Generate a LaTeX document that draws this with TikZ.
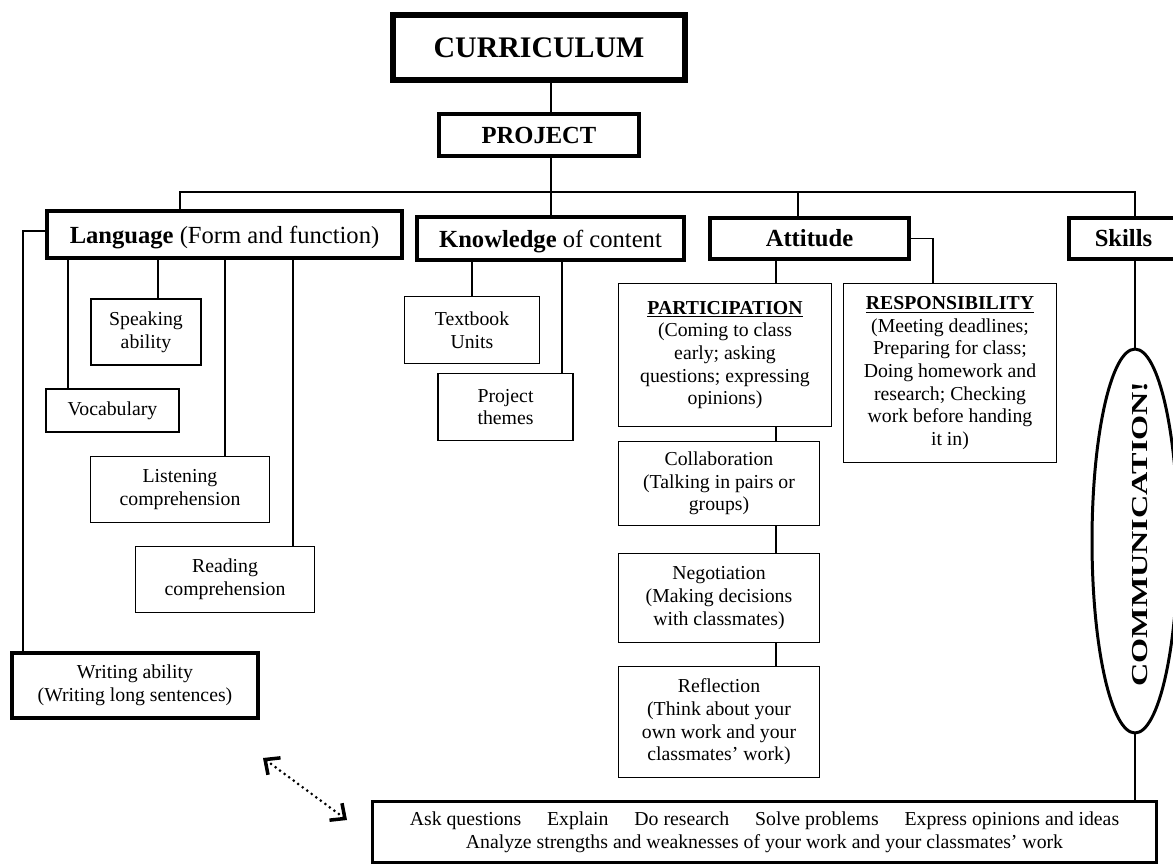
\documentclass[tikz,border=0pt]{standalone}
\usepackage{fontspec}
\setmainfont{Liberation Serif}
\usetikzlibrary{arrows.meta,shapes.geometric,calc}
\begin{document}
\begin{tikzpicture}[x=0.02cm,y=-0.02cm,
  box/.style={draw, line width=1pt, align=center, inner sep=0pt,
    font=\fontsize{11.25}{12.9}\selectfont},
  head/.style={draw, line width=2.1pt, align=center, inner sep=0pt,
    font=\fontsize{14}{16}\selectfont},
  conn/.style={line width=1pt},
  dotarrow/.style={line width=1.7pt, dash pattern=on 0pt off 3.2pt, line cap=round,
    {Straight Barb[length=6.5pt,width=12pt,line width=2pt]}-{Straight Barb[length=6.5pt,width=12pt,line width=2pt]}}
]
\clip (0,0) rectangle (1173,867);
\fill[white] (0,0) rectangle (1173,867);

% top
\node[head, line width=3.6pt, font=\fontsize{17}{20}\selectfont\bfseries,
  minimum width=5.84cm, minimum height=1.3cm] (cur) at (539,47.5) {CURRICULUM};
\node[head, line width=2.2pt, font=\fontsize{14}{16}\selectfont\bfseries,
  minimum width=4cm, minimum height=0.84cm] (proj) at (539,135) {PROJECT};

% main categories
\node[head, minimum width=7.1cm, minimum height=0.94cm, text depth=0pt] (lang) at (224.5,234.5)
  {\textbf{Language} (Form and function)};
\node[head, minimum width=5.34cm, minimum height=0.86cm, text depth=0pt] (know) at (550.5,238.5)
  {\textbf{Knowledge} of content};
\node[head, minimum width=3.98cm, minimum height=0.82cm] (att) at (809.5,238.5)
  {\textbf{Attitude}};
\node[head, minimum width=2.18cm, minimum height=0.82cm] (sk) at (1123.5,238.5)
  {\textbf{Skills}};

% language children
\node[box, minimum width=2.2cm, minimum height=1.32cm] (spk) at (146,332) {Speaking\\ability};
\node[box, minimum width=2.66cm, minimum height=0.86cm] (voc) at (112.5,410.5) {Vocabulary};
\node[box, minimum width=3.58cm, minimum height=1.32cm] (lis) at (180,489.5) {Listening\\comprehension};
\node[box, minimum width=3.58cm, minimum height=1.32cm] (rea) at (225,579.5) {Reading\\comprehension};
\node[box, line width=1.9pt, minimum width=4.92cm, minimum height=1.3cm] (wri) at (135,685.5)
  {Writing ability\\(Writing long sentences)};

% knowledge children
\node[box, minimum width=2.7cm, minimum height=1.34cm] (txt) at (472,330) {Textbook\\Units};
\node[box, minimum width=2.7cm, minimum height=1.34cm] (pth) at (505.5,407) {Project\\themes};

% attitude children
\node[box, minimum width=4.26cm, minimum height=2.86cm] (par) at (725,355)
  {\underline{\textbf{PARTICIPATION}}\\(Coming to class\\early; asking\\questions; expressing\\opinions)};
\node[box, minimum width=4.02cm, minimum height=1.68cm] (col) at (719,483.5)
  {Collaboration\\(Talking in pairs or\\groups)};
\node[box, minimum width=4.02cm, minimum height=1.78cm] (neg) at (719,598)
  {Negotiation\\(Making decisions\\with classmates)};
\node[box, minimum width=4.02cm, minimum height=2.22cm] (rfl) at (719,722)
  {Reflection\\(Think about your\\own work and your\\classmates’ work)};
\node[box, minimum width=4.26cm, minimum height=3.58cm] (res) at (950,373)
  {\underline{\textbf{RESPONSIBILITY}}\\(Meeting deadlines;\\Preparing for class;\\Doing homework and\\research; Checking\\work before handing\\it in)};

% skills
\node[draw, ellipse, line width=1.7pt, inner sep=0pt, minimum width=1.72cm, minimum height=7.68cm]
  (ell) at (1135,541) {};
\node[inner sep=0pt, font=\fontsize{13}{15}\selectfont\bfseries] (com) at (1140,534)
  {\rotatebox{90}{\scalebox{1.41}[1]{COMMUNICATION!}}};
\node[box, line width=1.9pt, minimum width=15.68cm, minimum height=1.22cm] (bot) at (764.5,832)
  {Ask questions\hspace{14.7pt}Explain\hspace{14.7pt}Do research\hspace{14.7pt}Solve problems\hspace{14.7pt}Express opinions and ideas\\
   Analyze strengths and weaknesses of your work and your classmates’ work};

% coordinates
\coordinate (bL) at (180,192);
\coordinate (bK) at (551,192);
\coordinate (bA) at (798,192);
\coordinate (bS) at (1135,192);
\coordinate (wl) at (23,231);
\coordinate (d1) at (68,0);
\coordinate (d2) at (158,0);
\coordinate (d3) at (225,0);
\coordinate (d4) at (293,0);
\coordinate (k2) at (562,0);
\coordinate (a1) at (776,0);
\coordinate (r1) at (933,0);
\coordinate (ar1) at (263,758);
\coordinate (ar2) at (347,820);

% connectors
\draw[conn] (cur.south -| bK) -- (proj.north -| bK);
\draw[conn] (proj.south -| bK) -- (know.north -| bK);
\draw[conn] (lang.north -| bL) -- (bL) -- (bS) -- (sk.north -| bS);
\draw[conn] (bA) -- (att.north -| bA);
\draw[conn] (lang.west |- wl) -- (wl) -- (wri.north -| wl);
\draw[conn] (lang.south -| d1) -- (voc.north -| d1);
\draw[conn] (lang.south -| d2) -- (spk.north -| d2);
\draw[conn] (lang.south -| d3) -- (lis.north -| d3);
\draw[conn] (lang.south -| d4) -- (rea.north -| d4);
\draw[conn] (know.south -| txt.north) -- (txt.north);
\draw[conn] (know.south -| k2) -- (pth.north -| k2);
\draw[conn] (att.south -| a1) -- (par.north -| a1);
\draw[conn] (par.south -| a1) -- (col.north -| a1);
\draw[conn] (col.south -| a1) -- (neg.north -| a1);
\draw[conn] (neg.south -| a1) -- (rfl.north -| a1);
\draw[conn] (att.east) -| (res.north -| r1);
\draw[conn] (sk.south -| bS) -- (ell.north);
\draw[conn] (ell.south) -- (bot.north -| bS);
\draw[dotarrow] (ar1) -- (ar2);
\end{tikzpicture}
\end{document}
